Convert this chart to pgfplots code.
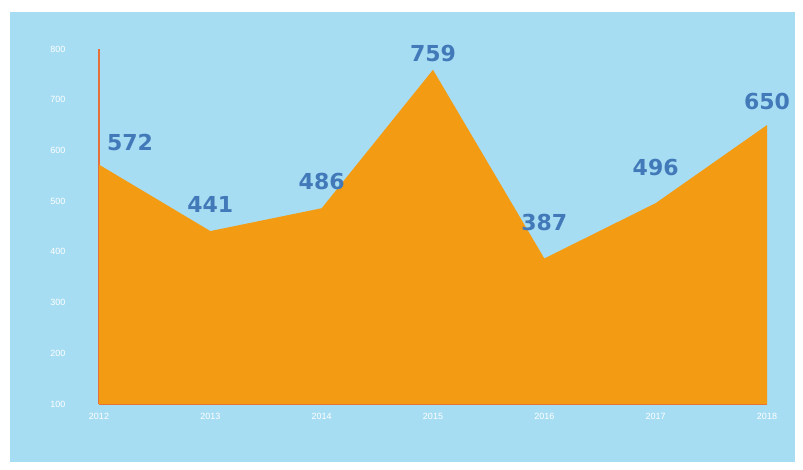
\documentclass[border=0pt]{standalone}
\usepackage{pgfplots}
\pgfplotsset{compat=1.18}
\usepackage{fontspec}
\setmainfont{Liberation Sans}
\newfontfamily\labfont{DejaVu Sans}
\definecolor{bgblue}{HTML}{A7DDF3}
\definecolor{fillor}{HTML}{F29B13}
\definecolor{axred}{HTML}{E5703A}
\definecolor{labblue}{HTML}{4279B9}
\begin{document}
\begin{tikzpicture}
\fill[white] (0pt,0pt) rectangle (803pt,-470pt);
\fill[bgblue] (10pt,-12pt) rectangle (795pt,-462pt);
\pgfplotsset{lab/.style={draw=none, mark=none, nodes near coords,
  every node near coord/.append style={anchor=center, text=labblue, font=\labfont\bfseries\fontsize{22}{24}\selectfont, #1}}}
\begin{axis}[
  scale only axis,
  width=668pt, height=355pt,
  anchor=south west, at={(99pt,-404pt)},
  xmin=0, xmax=6, ymin=100, ymax=800,
  axis lines=left,
  axis line style={axred, line width=1.2pt, -},
  xtick={0,...,6},
  xticklabels={2012,2013,2014,2015,2016,2017,2018},
  ytick={100,200,...,800},
  tick style={draw=none},
  tick label style={white, font=\fontsize{9}{10}\selectfont},
  yticklabel style={xshift=-28pt},
  xticklabel style={yshift=-4pt},
  /pgf/number format/assume math mode=true,
  /pgf/number format/1000 sep={},
  clip=false,
]
\addplot[fill=fillor, draw=none] coordinates {
  (0,572) (1,441) (2,486) (3,759) (4,387) (5,496) (6,650)
} \closedcycle;
\addplot[lab={yshift=27pt}] coordinates {(1,441) (2,486)};
\addplot[lab={yshift=24pt}] coordinates {(6,650)};
\addplot[lab={yshift=36pt}] coordinates {(4,387) (5,496)};
\addplot[lab={yshift=16pt}] coordinates {(3,759)};
\addplot[lab={yshift=22pt, xshift=31pt}] coordinates {(0,572)};
\end{axis}
\end{tikzpicture}
\end{document}
